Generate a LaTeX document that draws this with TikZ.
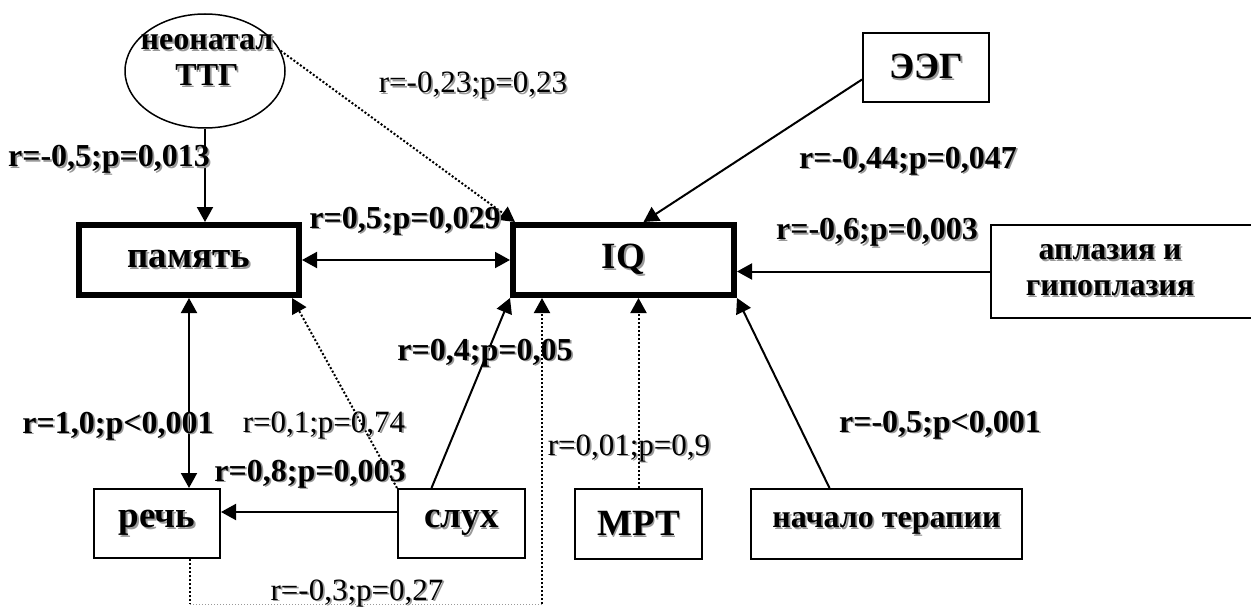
\documentclass[tikz,border=0pt]{standalone}
\usepackage{fontspec}
\setmainfont{Liberation Serif}
\usetikzlibrary{arrows.meta,shapes.geometric}
\newcommand{\shd}[1]{\makebox[0pt][l]{\hspace{1.8pt}\raisebox{-1.8pt}{\textcolor{black!40}{#1}}}#1}
\begin{document}
\begin{tikzpicture}[x=1pt,y=-1pt,
  box/.style={draw, line width=2pt, rectangle, inner sep=0pt, font=\fontsize{37}{40}\selectfont\bfseries},
  thickbox/.style={box, line width=6pt},
  lab/.style={font=\fontsize{32}{35}\selectfont\bfseries, inner sep=0pt, anchor=base},
  nlab/.style={font=\fontsize{31}{35}\selectfont, inner sep=0pt, anchor=base},
  tip/.tip={Triangle[length=15pt,width=16pt]},
  arr/.style={line width=2pt, -tip},
  darr/.style={line width=2pt, tip-tip},
  dotarr/.style={line width=2pt, dotted, -tip},
]
\useasboundingbox (0,0) rectangle (1251,607);
\fill[white] (0,0) rectangle (1251,607);

% nodes
\node[ellipse, draw, line width=1.5pt, minimum width=160pt, minimum height=114pt, inner sep=0pt] (ttg) at (205,71) {};
\node[align=center, inner sep=0pt, font=\fontsize{32}{36}\selectfont\bfseries] (ttgt) at (207,61) {\shd{неонатал}\\\shd{ТТГ}};
\node[thickbox, minimum width=220pt, minimum height=70pt] (pam) at (189,260) {\shd{память}};
\node[thickbox, minimum width=221pt, minimum height=70pt] (iq) at (623.5,260) {\shd{IQ}};
\node[box, minimum width=126pt, minimum height=69pt] (eeg) at (926,67.5) {\shd{ЭЭГ}};
\node[box, minimum width=271pt, minimum height=93pt, align=center, font=\fontsize{32}{36}\selectfont\bfseries] (apl) at (1126.5,271.5) {\shd{аплазия и}\hspace*{33pt}\\\shd{гипоплазия}\hspace*{33pt}};
\node[box, minimum width=126pt, minimum height=69pt] (rech) at (157,523.5) {\shd{речь}};
\node[box, minimum width=127pt, minimum height=69pt] (slukh) at (461.5,523.5) {\shd{слух}};
\node[box, minimum width=127pt, minimum height=70pt] (mrt) at (638.5,524) {\shd{МРТ}};
\node[box, minimum width=271pt, minimum height=70pt, font=\fontsize{32}{36}\selectfont\bfseries] (nach) at (886.5,524) {\shd{начало терапии}};

% connectors
\draw[arr] (ttg.south) -- (ttg.south |- pam.north);
\draw[darr] (pam.east) -- (iq.west);
\draw[dotarr] (ttg.15) -- ([xshift=5pt]iq.north west);
\draw[arr] ([yshift=-12pt]eeg.west) -- ([xshift=20pt]iq.north);
\draw[arr] (apl.west) -- (apl.west -| iq.east);
\draw[darr] (pam.south) -- (pam.south |- rech.north);
\coordinate (s1) at ([yshift=11.5pt]slukh.west);
\draw[arr] (s1) -- (s1 -| rech.east);
\draw[dotarr] (slukh.north west) -- ([xshift=-10pt]pam.south east);
\draw[arr] ([xshift=-30pt]slukh.north) -- (iq.south west);
\draw[dotarr] (mrt.north) -- (mrt.north |- iq.south);
\draw[arr] ([xshift=-57pt]nach.north) -- (iq.south east);
\coordinate (rb) at (190,604);
\coordinate (ib) at (542,604);
\draw[line width=2pt, dotted] (rb |- rech.south) -- (rb);
\draw[line width=1pt, dotted, black!40] (rb) -- (ib);
\draw[dotarr] (ib) -- (ib |- iq.south);

% labels
\node[lab] (l1) at (109,167) {\shd{r=-0,5;p=0,013}};
\node[nlab] (l2) at (473,93) {\shd{r=-0,23;p=0,23}};
\node[lab] (l3) at (405,228) {\shd{r=0,5;p=0,029}};
\node[lab] (l4) at (908,168) {\shd{r=-0,44;p=0,047}};
\node[lab] (l5) at (877,240) {\shd{r=-0,6;p=0,003}};
\node[lab] (l6) at (485,360) {\shd{r=0,4;p=0,05}};
\node[lab] (l7) at (118,433) {\shd{r=1,0;p<0,001}};
\node[nlab] (l8) at (324,432) {\shd{r=0,1;p=0,74}};
\node[lab] (l9) at (310,481) {\shd{r=0,8;p=0,003}};
\node[nlab] (l10) at (629,455) {\shd{r=0,01;p=0,9}};
\node[lab] (l11) at (940,432) {\shd{r=-0,5;p<0,001}};
\node[nlab] (l12) at (357,600) {\shd{r=-0,3;p=0,27}};
\end{tikzpicture}
\end{document}
